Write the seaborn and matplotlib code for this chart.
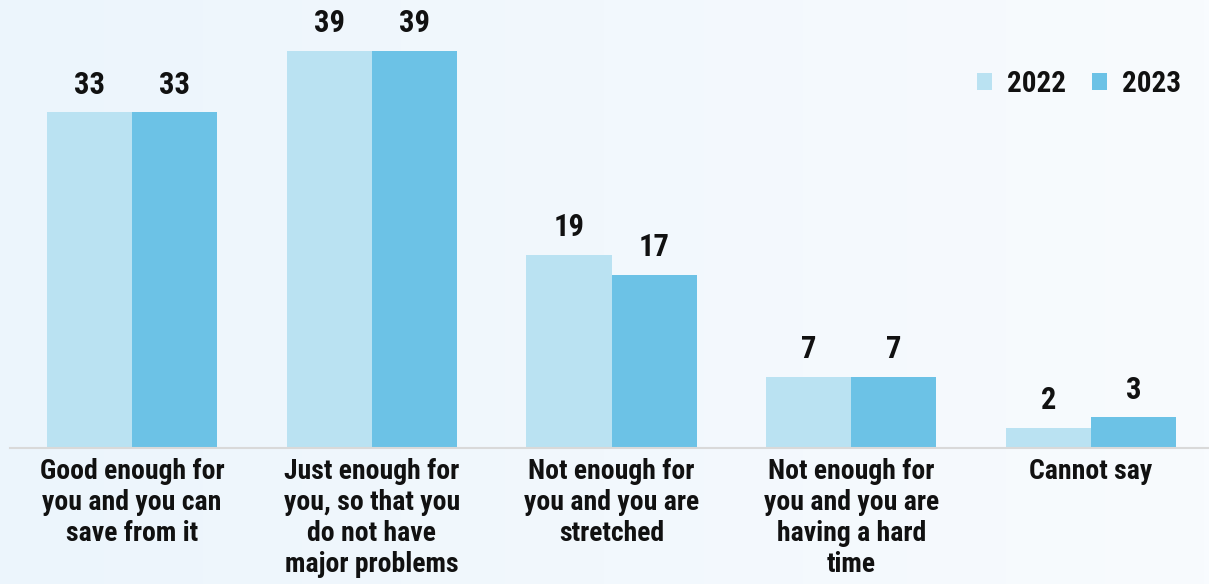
import numpy as np
import pandas as pd
import matplotlib
matplotlib.use("Agg")
import matplotlib.pyplot as plt
import seaborn as sns
from matplotlib import font_manager
from matplotlib.colors import LinearSegmentedColormap

categories = [
    "Good enough for\nyou and you can\nsave from it",
    "Just enough for\nyou, so that you\ndo not have\nmajor problems",
    "Not enough for\nyou and you are\nstretched",
    "Not enough for\nyou and you are\nhaving a hard\ntime",
    "Cannot say",
]
years = ["2022", "2023"]
values_2022 = [33, 39, 19, 7, 2]
values_2023 = [33, 39, 17, 7, 3]
colors = ["#BAE2F2", "#6CC2E6"]

df = pd.DataFrame({
    "category": categories * 2,
    "year": [years[0]] * 5 + [years[1]] * 5,
    "value": values_2022 + values_2023,
})

sns.set_theme(style="white")
names = {f.name for f in font_manager.fontManager.ttflist}
fam = "Roboto Condensed" if "Roboto Condensed" in names else (
    "Liberation Sans Narrow" if "Liberation Sans Narrow" in names else "Roboto")
plt.rcParams["font.family"] = [fam, "DejaVu Sans"]
plt.rcParams["font.weight"] = "bold"

W, H = 1209, 584
fig = plt.figure(figsize=(W / 100, H / 100), dpi=100)

# background gradient
bg = fig.add_axes([0, 0, 1, 1], zorder=-10)
grad = np.linspace(0, 1, 256).reshape(1, -1)
cmap = LinearSegmentedColormap.from_list("bg", ["#ECF5FC", "#F8FBFE"])
bg.imshow(grad, aspect="auto", cmap=cmap, extent=[0, 1, 0, 1])
bg.set_axis_off()

base_y = 448
ax_left = 10 / W
ax_bottom = (H - base_y) / H
ax = fig.add_axes([ax_left, ax_bottom, 1 - ax_left, base_y / H])
ax.set_facecolor("none")

sns.barplot(data=df, x="category", y="value", hue="year", palette=colors,
            width=0.71, gap=0, ax=ax, saturation=1, edgecolor="none",
            linewidth=0, legend=True)

spacing = 239.75
ax.set_xlim(-(132 - 10) / spacing, 4 + (W - 1091) / spacing)
ax.set_ylim(0, base_y / 10.18)

for c in ax.containers:
    ax.bar_label(c, labels=[f"{int(v)}" for v in c.datavalues], padding=9,
                 fontsize=22, fontweight="bold", color="#111111")

ax.set_xlabel("")
ax.set_ylabel("")
ax.set_yticks([])
ax.tick_params(axis="x", length=0, pad=7, labelsize=20)
for lbl in ax.get_xticklabels():
    lbl.set_fontweight("bold")
    lbl.set_color("#111111")
    lbl.set_linespacing(1.2)
for s in ["top", "left", "right"]:
    ax.spines[s].set_visible(False)
ax.spines["bottom"].set_color("#D9D9D9")
ax.spines["bottom"].set_linewidth(1.5)

leg = ax.legend(loc="upper right", bbox_to_anchor=(0.986, 0.87), frameon=False,
                ncol=2, fontsize=21, handlelength=0.52, handleheight=0.52,
                handletextpad=0.5, columnspacing=0.9, borderaxespad=0.0)
for t in leg.get_texts():
    t.set_fontweight("bold")
    t.set_color("#111111")

fig.savefig("out.png", dpi=100)
